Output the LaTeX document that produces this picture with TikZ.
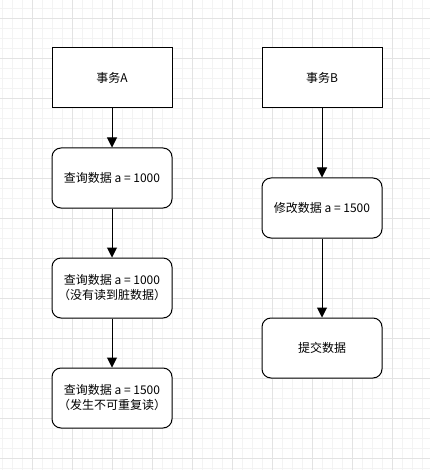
\documentclass[tikz,border=0pt]{standalone}
\usepackage{fontspec}
\setmainfont{Liberation Sans}
\newfontfamily\cjk{Noto Sans CJK SC}
\usetikzlibrary{arrows.meta}
\definecolor{minorgrid}{HTML}{F3F3F3}
\definecolor{majorgrid}{HTML}{E3E3E3}
\begin{document}
\begin{tikzpicture}[x=1pt,y=-1pt,
  box/.style={draw=black,line width=1pt,fill=white,minimum width=120pt,minimum height=60pt,inner sep=0pt,align=center,font=\cjk\fontsize{12pt}{15pt}\selectfont},
  rbox/.style={box,rounded corners=9pt},
  conn/.style={line width=1pt,-{Triangle[length=10pt,width=10pt]}}]
\useasboundingbox (0,0) rectangle (430,470);
\fill[white] (0,0) rectangle (430,470);
\foreach \x in {2,12,...,430} \draw[minorgrid,line width=0.6pt] (\x,0) -- (\x,470);
\foreach \y in {8,18,...,470} \draw[minorgrid,line width=0.6pt] (0,\y) -- (430,\y);
\foreach \x in {32,72,...,430} \draw[majorgrid,line width=0.8pt] (\x,0) -- (\x,470);
\foreach \y in {18,58,...,470} \draw[majorgrid,line width=0.8pt] (0,\y) -- (430,\y);
\node[box]  (ta) at (112,78)  {事务A};
\node[rbox] (a1) at (112,178) {查询数据 a = 1000};
\node[rbox] (a2) at (112,288) {查询数据 a = 1000\\（没有读到脏数据）};
\node[rbox] (a3) at (112,398) {查询数据 a = 1500\\（发生不可重复读）};
\node[box]  (tb) at (322,78)  {事务B};
\node[rbox] (b1) at (322,208) {修改数据 a = 1500};
\node[rbox] (b2) at (322,348) {提交数据};
\draw[conn] (ta) -- (a1);
\draw[conn] (a1) -- (a2);
\draw[conn] (a2) -- (a3);
\draw[conn] (tb) -- (b1);
\draw[conn] (b1) -- (b2);
\end{tikzpicture}
\end{document}
